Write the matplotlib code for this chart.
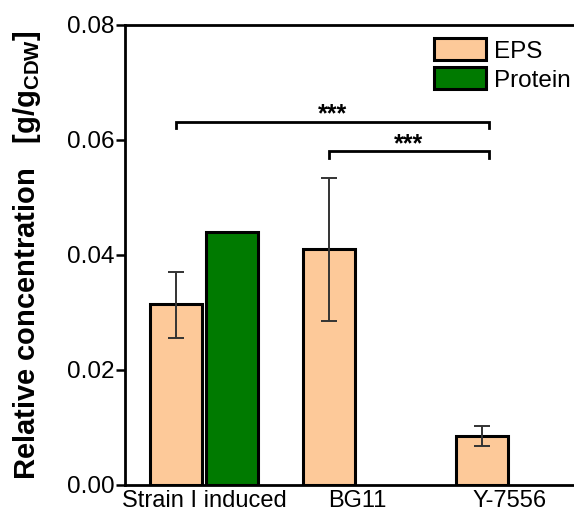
import matplotlib
matplotlib.use("Agg")
import matplotlib.pyplot as plt
import numpy as np

plt.rcParams["font.family"] = ["Liberation Sans", "DejaVu Sans"]
plt.rcParams["mathtext.fontset"] = "custom"
plt.rcParams["mathtext.rm"] = "Liberation Sans"
plt.rcParams["mathtext.bf"] = "Liberation Sans:bold"

groups = ["Strain I induced", "BG11", "Y-7556"]
eps_mean = [0.0314, 0.0410, 0.0085]
eps_err_low = [0.0058, 0.0125, 0.0017]
eps_err_high = [0.0056, 0.0124, 0.0018]
protein_mean = [0.0440, np.nan, np.nan]

# significance brackets: (left group, right group, height, label)
brackets = [(0, 2, 0.0632, "***"), (1, 2, 0.0580, "***")]

EPS_COLOR = "#fdc999"
PROTEIN_COLOR = "#007a00"

x = np.arange(len(groups))
width = 0.34
offset = 0.183

fig = plt.figure(figsize=(5.74, 5.11), dpi=100)
ax = fig.add_axes([0.2178, 0.0509, 0.7822, 0.9002])

ax.bar(x - offset, eps_mean, width, color=EPS_COLOR, edgecolor="black",
       linewidth=2.2, label="EPS", zorder=2)
ax.bar(x + offset, protein_mean, width, color=PROTEIN_COLOR, edgecolor="black",
       linewidth=2.2, label="Protein", zorder=2)
ax.errorbar(x - offset, eps_mean, yerr=[eps_err_low, eps_err_high], fmt="none",
            ecolor="#333333", elinewidth=1.4, capsize=5.5, capthick=1.4, zorder=3)

for g0, g1, h, lab in brackets:
    x0 = x[g0] - offset
    x1 = x[g1] - offset + 0.045
    drop = 0.0011
    ax.plot([x0, x0, x1, x1], [h - drop, h, h, h - drop], color="black",
            lw=2.0, solid_joinstyle="miter", zorder=4)
    ax.text((x0 + x1) / 2, h - 0.0008, lab, ha="center", va="bottom",
            fontsize=18, fontweight="bold")

ax.set_xlim(-0.516, 2.418)
ax.set_ylim(0, 0.08)
ax.set_yticks([0, 0.02, 0.04, 0.06, 0.08])
ax.set_yticklabels(["0.00", "0.02", "0.04", "0.06", "0.08"])
ax.set_xticks(x)
ax.set_xticklabels(groups)
ax.tick_params(axis="y", direction="out", length=6.5, width=1.8, labelsize=17.5, pad=1)
ax.tick_params(axis="x", length=0, labelsize=17, pad=3.5)

for side in ["left", "bottom", "top"]:
    ax.spines[side].set_linewidth(2.0)
ax.spines["right"].set_visible(False)

ax.set_ylabel(r"Relative concentration   [g/g$_{\mathbf{CDW}}$]",
              fontsize=21, fontweight="bold", labelpad=17)

ax.legend(loc="upper right", bbox_to_anchor=(1.022, 1.0), frameon=False,
          fontsize=17.5, handlelength=2.15, handleheight=1.0,
          labelspacing=0.2, handletextpad=0.3, borderaxespad=0.15)

fig.savefig("out.png", dpi=100)
